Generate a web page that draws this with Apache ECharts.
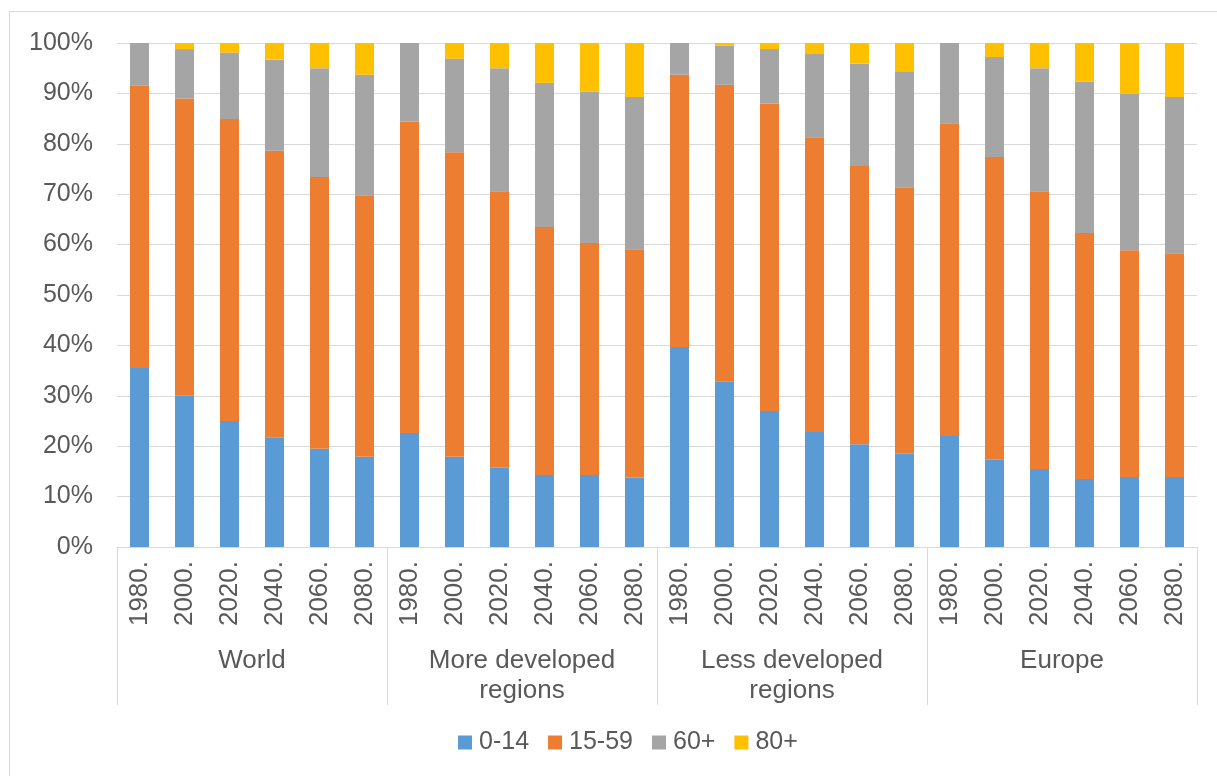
<!DOCTYPE html>
<html>
<head>
<meta charset="utf-8">
<script src="https://cdn.jsdelivr.net/npm/echarts@6/dist/echarts.min.js"></script>
<style>
  html, body { margin: 0; padding: 0; background: #fff; }
  #frame { position: absolute; left: 9px; top: 11px; width: 1230px; height: 800px; border: 1px solid #d9d9d9; box-sizing: border-box; }
  #chart { position: absolute; left: 0; top: 0; width: 1217px; height: 776px; }
</style>
</head>
<body>
<div id="frame"></div>
<div id="chart"></div>
<script>
// groups and years on the x axis
var groups = ['World', 'More developed\nregions', 'Less developed\nregions', 'Europe']
var years = ['1980.', '2000.', '2020.', '2040.', '2060.', '2080.']
var seriesNames = ['0-14', '15-59', '60+', '80+']

// shares in %, per group, 1980..2080
var age0_14 = [
  35.5, 30.1, 25.0, 21.8, 19.5, 17.9,
  22.6, 17.9, 15.7, 14.3, 14.3, 13.8,
  39.7, 32.9, 27.0, 22.8, 20.4, 18.5,
  22.0, 17.3, 15.5, 13.5, 13.9, 13.9
]
var age15_59 = [
  56.0, 58.9, 59.9, 56.8, 53.9, 51.9,
  61.8, 60.4, 54.9, 49.2, 46.0, 45.3,
  54.0, 58.8, 61.0, 58.5, 55.2, 52.9,
  62.1, 60.1, 55.1, 48.8, 45.0, 44.4
]
var age60 = [
  8.5, 9.8, 13.2, 18.1, 21.6, 23.9,
  15.6, 18.6, 24.4, 28.6, 30.0, 30.2,
  6.3, 7.8, 10.8, 16.5, 20.3, 23.0,
  15.9, 19.8, 24.4, 30.0, 31.0, 31.0
]
var age80 = [
  0, 1.2, 1.9, 3.3, 5.0, 6.3,
  0, 3.1, 5.0, 7.9, 9.7, 10.7,
  0, 0.5, 1.2, 2.2, 4.1, 5.6,
  0, 2.8, 5.0, 7.7, 10.1, 10.7
]

var colors = ['#5B9BD5', '#ED7D31', '#A5A5A5', '#FFC000']
var font = 'Liberation Sans'
var textColor = '#595959'

var cats = []
for (var g in groups) {
  for (var y in years) {
    cats.push(years[y])
  }
}

var chart = echarts.init(document.getElementById('chart'), null, { renderer: 'canvas' })

function barSeries(name, values) {
  return {
    name: name,
    type: 'bar',
    stack: 'total',
    barWidth: 19,
    xAxisIndex: 0,
    data: values,
    animation: false
  }
}

var option = {
  color: colors,
  textStyle: { fontFamily: font },
  grid: { left: 117, right: 20, top: 43, bottom: 229, containLabel: false },
  legend: {
    bottom: 16,
    left: 453,
    itemWidth: 14,
    itemHeight: 14,
    itemGap: 19,
    icon: 'rect',
    textStyle: { fontSize: 25, color: textColor, fontFamily: font, padding: [0, 0, 0, 2] },
    data: seriesNames
  },
  xAxis: [
    {
      type: 'category',
      data: cats,
      position: 'bottom',
      axisLine: { lineStyle: { color: '#d9d9d9', width: 1 } },
      axisTick: { show: false },
      axisLabel: {
        interval: 0,
        rotate: 90,
        margin: 14,
        fontSize: 26,
        color: textColor,
        fontFamily: font
      }
    },
    {
      type: 'category',
      data: groups,
      position: 'bottom',
      axisLine: { show: false },
      axisTick: { show: true, length: 158, lineStyle: { color: '#d9d9d9', width: 1 } },
      axisLabel: {
        interval: 0,
        margin: 99,
        fontSize: 26,
        lineHeight: 30,
        color: textColor,
        fontFamily: font
      }
    }
  ],
  yAxis: {
    type: 'value',
    min: 0,
    max: 100,
    interval: 10,
    axisLine: { show: false },
    axisTick: { show: false },
    splitLine: { lineStyle: { color: '#d9d9d9', width: 1 } },
    axisLabel: {
      formatter: '{value}%',
      margin: 24,
      fontSize: 25,
      color: textColor,
      fontFamily: font
    }
  },
  series: [
    barSeries(seriesNames[0], age0_14),
    barSeries(seriesNames[1], age15_59),
    barSeries(seriesNames[2], age60),
    barSeries(seriesNames[3], age80)
  ]
}

chart.setOption(option)
</script>
</body>
</html>
